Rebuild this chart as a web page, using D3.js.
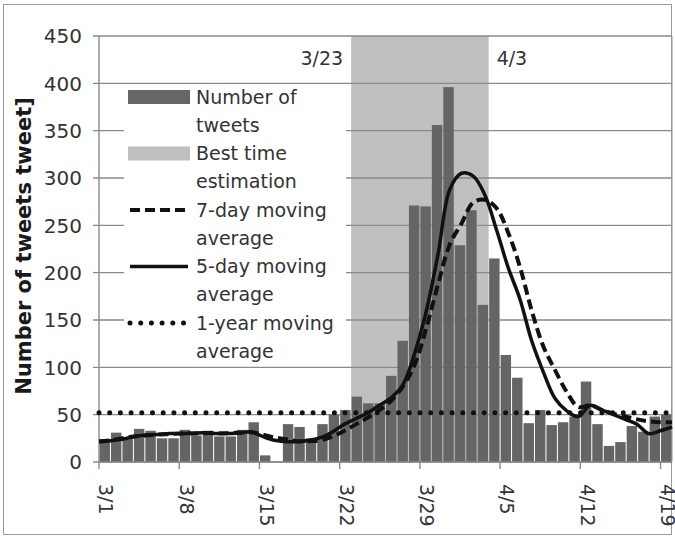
<!DOCTYPE html>
<html>
<head>
<meta charset="utf-8">
<script src="https://d3js.org/d3.v7.min.js"></script>
<style>
  body { margin: 0; background: #fff; }
  svg text { font-family: "DejaVu Sans", sans-serif; fill: #333; }
</style>
</head>
<body>
<svg id="chart"></svg>
<script>
  // daily categories, 3/1 .. 4/19
  const dates = ["3/1","3/2","3/3","3/4","3/5","3/6","3/7","3/8","3/9","3/10",
    "3/11","3/12","3/13","3/14","3/15","3/16","3/17","3/18","3/19","3/20",
    "3/21","3/22","3/23","3/24","3/25","3/26","3/27","3/28","3/29","3/30",
    "3/31","4/1","4/2","4/3","4/4","4/5","4/6","4/7","4/8","4/9",
    "4/10","4/11","4/12","4/13","4/14","4/15","4/16","4/17","4/18","4/19"]

  const tweets = [22,31,25,35,33,25,25,34,28,33,
    27,27,34,42,7,0,40,37,25,40,
    50,55,69,62,62,91,128,271,270,356,
    396,229,266,166,215,113,89,41,55,39,
    42,48,85,40,17,21,38,32,48,50]

  const avg5 = [21.5,22.5,24,27,28.5,29,30,30,30.5,31,
    30,30,30.5,32,27,23,21.5,21.5,23,26,
    32,40,46,52,60,68,82,115,160,220,
    288,305,302,282,245,205,172,128,95,67,
    54,48,60,55,50,45,40,30,33,37]

  const avg7 = [22,23,25,27,28,29,29.5,30,30,30.5,
    30.5,30.5,31,31.5,29,26,24,22,22,23,
    27,33,40,47,55,65,80,103,142,188,
    230,252,274,277,268,242,206,160,122,97,
    74,58,60,55,51,48,45,43,42,42]

  const yearAvg = 52
  const bestStart = "3/23"
  const bestEnd = "4/3"
  const bestValue = 450
  const xTicks = ["3/1","3/8","3/15","3/22","3/29","4/5","4/12","4/19"]
  const yTicks = [0,50,100,150,200,250,300,350,400,450]

  const legendItems = [
    { type: "bar", color: "#666666", lines: ["Number of", "tweets"] },
    { type: "bar", color: "#c0c0c0", lines: ["Best time", "estimation"] },
    { type: "dash", lines: ["7-day moving", "average"] },
    { type: "solid", lines: ["5-day moving", "average"] },
    { type: "dot", lines: ["1-year moving", "average"] }
  ]

  let width = 675, height = 538
  let margin = { top: 36, left: 99, right: 3, bottom: 76 }
  let bodyWidth = width - margin.left - margin.right
  let bodyHeight = height - margin.top - margin.bottom

  let svg = d3.select("#chart").attr("width", width).attr("height", height)

  // outer frame
  svg.append("rect")
    .attr("x", 3.5).attr("y", 4.5).attr("width", 668).attr("height", 530)
    .attr("fill", "none").attr("stroke", "#999").attr("stroke-width", 1)

  let xScale = d3.scaleBand().domain(dates).range([0, bodyWidth])
    .paddingInner(0.09).paddingOuter(0.045)
  let xLine = d3.scalePoint().domain(dates).range([0, bodyWidth])
  let yScale = d3.scaleLinear().domain([0, 450]).range([bodyHeight, 0])
  let step = xScale.step()
  let bandLeft = d => xScale(d) - xScale.paddingInner() * step / 2

  let body = svg.append("g").attr("transform", `translate(${margin.left},${margin.top})`)

  // best-time shading
  body.append("rect")
    .attr("x", bandLeft(bestStart))
    .attr("width", bandLeft(bestEnd) + step - bandLeft(bestStart))
    .attr("y", yScale(bestValue))
    .attr("height", yScale(0) - yScale(bestValue))
    .attr("fill", "#c0c0c0")

  // gridlines
  body.selectAll(".grid").data(yTicks).enter().append("line")
    .attr("x1", -6).attr("x2", bodyWidth)
    .attr("y1", d => yScale(d)).attr("y2", d => yScale(d))
    .attr("stroke", "#8a8a8a").attr("stroke-width", 1.4)

  // bars
  body.selectAll(".bar").data(tweets).enter().append("rect")
    .attr("x", (d, i) => xScale(dates[i]))
    .attr("width", xScale.bandwidth())
    .attr("y", d => yScale(d))
    .attr("height", d => yScale(0) - yScale(d))
    .attr("fill", "#656565")

  // labels of shaded period
  body.append("text").attr("x", bandLeft(bestStart) - 8).attr("y", 29)
    .attr("text-anchor", "end").style("font-size", "19px").text(bestStart)
  body.append("text").attr("x", bandLeft(bestEnd) + step + 8).attr("y", 29)
    .attr("text-anchor", "start").style("font-size", "19px").text(bestEnd)

  // axes
  body.append("line").attr("x1", 0).attr("x2", 0).attr("y1", 0).attr("y2", bodyHeight)
    .attr("stroke", "#8a8a8a").attr("stroke-width", 1.4)
  body.append("line").attr("x1", 0).attr("x2", bodyWidth).attr("y1", bodyHeight).attr("y2", bodyHeight)
    .attr("stroke", "#8a8a8a").attr("stroke-width", 1.4)
  body.append("line").attr("x1", bodyWidth).attr("x2", bodyWidth).attr("y1", 0).attr("y2", bodyHeight)
    .attr("stroke", "#999").attr("stroke-width", 1)

  body.selectAll(".ylab").data(yTicks).enter().append("text")
    .attr("x", -17).attr("y", d => yScale(d)).attr("dy", "0.36em")
    .attr("text-anchor", "end").style("font-size", "20px").text(d => d)

  let xt = body.selectAll(".xtick").data(xTicks).enter().append("g")
    .attr("transform", d => `translate(${bandLeft(d)},${bodyHeight})`)
  xt.append("line").attr("y1", 0).attr("y2", 7).attr("stroke", "#8a8a8a").attr("stroke-width", 1.4)
  xt.append("text").attr("transform", "translate(0,22) rotate(90)")
    .attr("dy", "-0.02em").attr("text-anchor", "start").style("font-size", "19px").text(d => d)

  // moving averages
  let line = d3.line().x((d, i) => xLine(dates[i])).y(d => yScale(d)).curve(d3.curveCatmullRom.alpha(0.5))

  body.append("line")
    .attr("x1", xLine(dates[0])).attr("x2", xLine(dates[dates.length - 1]))
    .attr("y1", yScale(yearAvg)).attr("y2", yScale(yearAvg))
    .attr("stroke", "#111").attr("stroke-width", 5)
    .attr("stroke-dasharray", "0 10.7").attr("stroke-linecap", "round")

  body.append("path").datum(avg7).attr("d", line)
    .attr("fill", "none").attr("stroke", "#111").attr("stroke-width", 4)
    .attr("stroke-dasharray", "10 5")

  body.append("path").datum(avg5).attr("d", line)
    .attr("fill", "none").attr("stroke", "#111").attr("stroke-width", 3.5)

  // legend
  let legend = svg.append("g").attr("transform", "translate(124,87)")
  legend.append("rect").attr("width", 222).attr("height", 274).attr("fill", "#fff")
  legendItems.forEach((item, i) => {
    let g = legend.append("g").attr("transform", `translate(0,${10 + i * 56.5})`)
    if (item.type === "bar") {
      g.append("rect").attr("x", 4).attr("y", -7).attr("width", 62).attr("height", 14).attr("fill", item.color)
    } else {
      let l = g.append("line").attr("x1", 6).attr("x2", 64).attr("y1", 0).attr("y2", 0)
        .attr("stroke", "#111")
      if (item.type === "dash") l.attr("stroke-width", 4).attr("stroke-dasharray", "10 5")
      if (item.type === "solid") l.attr("stroke-width", 3.5)
      if (item.type === "dot") l.attr("stroke-width", 5).attr("stroke-dasharray", "0 10.7").attr("stroke-linecap", "round")
    }
    item.lines.forEach((t, j) => {
      g.append("text").attr("x", 72).attr("y", j * 28).attr("dy", "0.36em")
        .style("font-size", "19px").text(t)
    })
  })

  // y axis title
  svg.append("text")
    .attr("transform", `translate(31,246) rotate(-90)`)
    .attr("text-anchor", "middle")
    .style("font-size", "21px").style("font-weight", "bold").style("fill", "#1a1a1a")
    .text("Number of tweets tweet]")
</script>
</body>
</html>
